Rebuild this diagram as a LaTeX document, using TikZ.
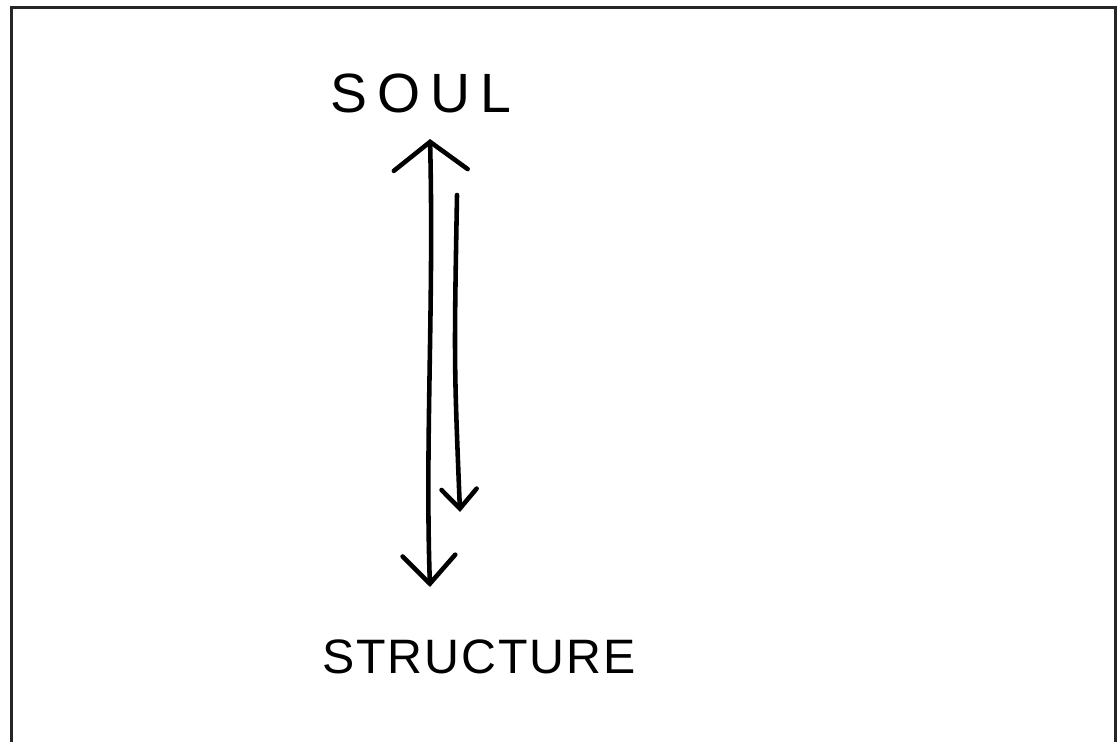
\documentclass[tikz,border=0pt]{standalone}
\usepackage{fontspec}
\newfontfamily\handfont[LetterSpace=18]{Liberation Sans}
\newfontfamily\handfontb[LetterSpace=4]{Liberation Sans}
\usetikzlibrary{arrows.meta,calc}
\tikzset{
  pen/.style={line width=2.6pt,line cap=round,line join=round},
  bigbarb/.style={{Straight Barb[length=16pt,width=42pt,line cap=round]}-{Straight Barb[length=16pt,width=30pt,line cap=round]}},
  smallbarb/.style={-{Straight Barb[length=11pt,width=20pt,line cap=round]}},
}
\begin{document}
\begin{tikzpicture}[x=0.02cm,y=-0.02cm]
  \useasboundingbox (0,0) rectangle (1118,742);
  \draw[line width=2.2pt,color=black!85] (11.5,760) -- (11.5,7.5) -- (1115.5,7.5) -- (1115.5,760);
  % labels
  \node[anchor=base,font=\handfont\fontsize{31.5}{36}\selectfont] (soul) at (421,113) {SOUL};
  \node[anchor=base,font=\handfontb\fontsize{27.5}{32}\selectfont] (structure) at (479,673) {STRUCTURE};
  % arrows
  \draw[pen,bigbarb] ($(soul.base)+(9,26)$)
     .. controls ($(soul.base)+(13,190)$) and ($(soul.base)+(4,330)$) .. ($(structure.base)+(-49,-86)$);
  \draw[pen,smallbarb] ($(soul.base)+(36,82)$) .. controls ($(soul.base)+(33,250)$) .. ($(soul.base)+(39,399)$);
\end{tikzpicture}
\end{document}
